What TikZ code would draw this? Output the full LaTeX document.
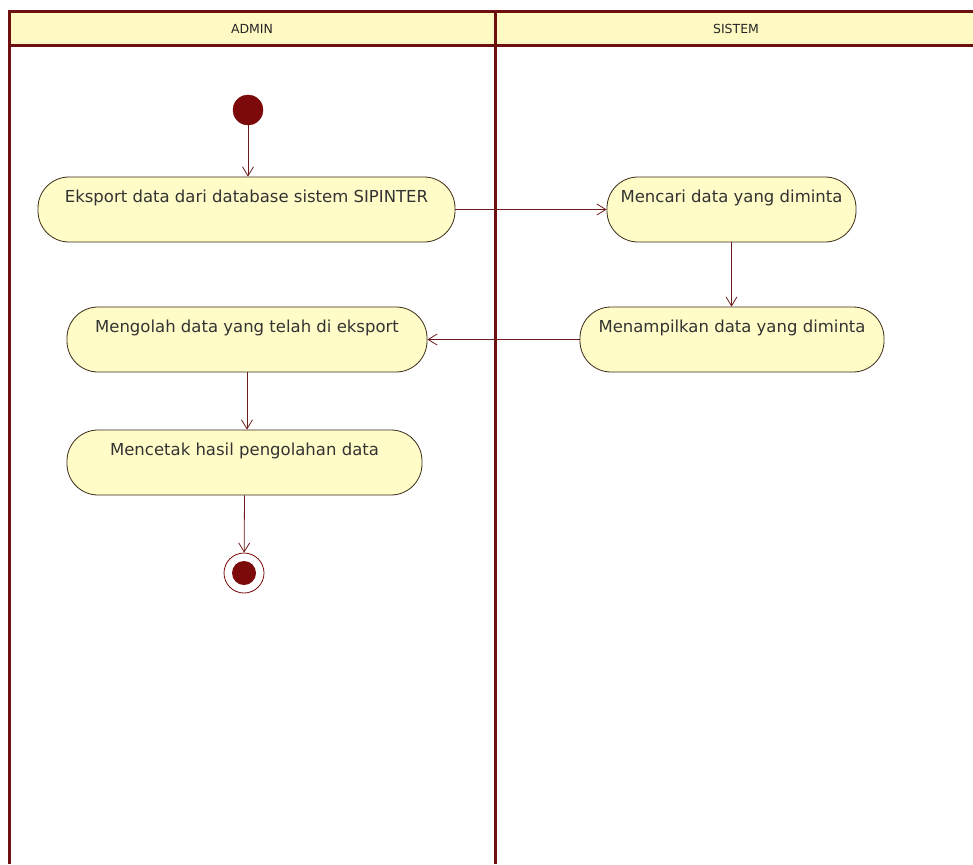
\documentclass[tikz,border=0pt]{standalone}
\usepackage{fontspec}
\setmainfont{DejaVu Sans}
\usetikzlibrary{arrows.meta, positioning}

\definecolor{laneline}{HTML}{6E1010}
\definecolor{lanefill}{HTML}{FFFAC4}
\definecolor{actfill}{HTML}{FFFCC8}
\definecolor{actline}{HTML}{3A2A18}
\definecolor{flowline}{HTML}{6A1A1A}
\definecolor{dotfill}{HTML}{7C0A0A}

\begin{document}
\begin{tikzpicture}[
  x=1pt, y=-1pt,
  lane/.style={line width=3pt, draw=laneline},
  title/.style={font=\fontsize{12.5}{14}\selectfont, text=black!85},
  act/.style={draw=actline, fill=actfill, line width=0.8pt,
              rounded corners=31pt, minimum height=65pt,
              text height=13pt, text depth=28pt, inner sep=2pt,
              font=\fontsize{16.5}{18}\selectfont, text=black!80},
  flow/.style={-{Straight Barb[length=9pt, width=11pt]}, draw=flowline,
               line width=0.8pt}
]
  \useasboundingbox (0,0) rectangle (973,864);

  % swimlanes
  \fill[lanefill] (9,12) rectangle (973,46);
  \draw[lane] (973,12) -- (9,12) -- (9,864);
  \draw[lane] (9,46) -- (973,46);
  \draw[lane] (495,12) -- (495,864);
  \node[title] (hadmin) at (252,29) {ADMIN};
  \node[title] (hsistem) at (736,29) {SISTEM};

  % activities
  \node[circle, fill=dotfill, draw=dotfill, minimum size=30pt, inner sep=0pt]
        (start) at (248,110) {};
  \node[act, minimum width=417pt] (eksport) at (246.5,209.5)
        {Eksport data dari database sistem SIPINTER};
  \node[act, minimum width=249pt] (cari) at (731.5,209.5)
        {Mencari data yang diminta};
  \node[act, minimum width=304pt] (tampil) at (732,339.5)
        {Menampilkan data yang diminta};
  \node[act, minimum width=360pt] (olah) at (247,339.5)
        {Mengolah data yang telah di eksport};
  \node[act, minimum width=355pt] (cetak) at (244.5,462.5)
        {Mencetak hasil pengolahan data};
  \node[circle, draw=dotfill, fill=white, line width=0.8pt,
        minimum size=40pt, inner sep=0pt] (stop) at (244,573) {};
  \fill[dotfill] (stop.center) circle (12pt);

  \draw[flow] (start) -- (start |- eksport.north);
  \draw[flow] (eksport) -- (cari);
  \draw[flow] (cari.south) -- (cari.south |- tampil.north);
  \draw[flow] (tampil) -- (olah);
  \draw[flow] (olah.south) -- (olah.south |- cetak.north);
  \draw[flow] (cetak.south) -- (stop);
\end{tikzpicture}
\end{document}
